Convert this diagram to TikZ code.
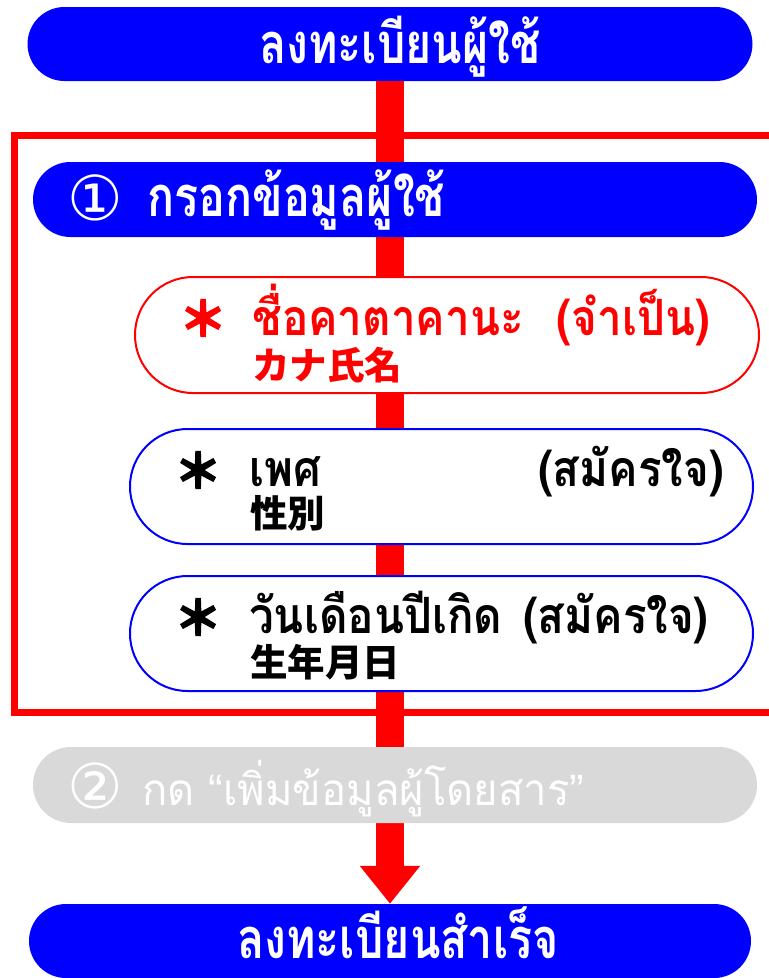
\documentclass[tikz,border=0pt]{standalone}
\usepackage{fontspec}
\usetikzlibrary{shapes.misc,arrows.meta}
\newfontfamily\thaif[Script=Thai,FakeStretch=0.8]{Loma}
\newfontfamily\thaii[Script=Thai,FakeStretch=0.88]{Loma}
\newfontfamily\thaig[Script=Thai,FakeStretch=0.95]{Loma}
\newfontfamily\jpf{Noto Sans CJK JP}
\newfontfamily\astf[FakeBold=2.5]{Noto Sans CJK JP}
\newfontfamily\symf{DejaVu Sans}
\newfontfamily\quof{Liberation Sans}
\definecolor{pblue}{RGB}{0,0,255}
\definecolor{pred}{RGB}{255,0,0}
\definecolor{pgrey}{RGB}{217,217,217}
\tikzset{
  pill/.style={rounded rectangle, inner sep=0pt, minimum height=#1},
  bluepill/.style={pill=#1, fill=pblue},
  greypill/.style={pill=#1, fill=pgrey},
  redline/.style={pill=#1, draw=pred, fill=white, line width=2pt},
  blueline/.style={pill=#1, draw=pblue, fill=white, line width=2pt},
  ttl/.style={inner sep=0pt, font=\thaif\bfseries\fontsize{56}{56}\selectfont},
  itm/.style={inner sep=0pt, font=\thaii\bfseries\fontsize{50}{50}\selectfont},
  grt/.style={inner sep=0pt, font=\thaig\fontsize{44}{44}\selectfont},
  jp/.style={inner sep=0pt, font=\jpf\bfseries\fontsize{37.5}{37.5}\selectfont},
  circ/.style={inner sep=0pt, font=\symf\fontsize{62}{62}\selectfont},
  ast/.style={inner sep=0pt, font=\astf\bfseries\fontsize{48}{48}\selectfont},
}
\begin{document}
\begin{tikzpicture}[x=1pt,y=-1pt]
\clip (0,0) rectangle (769,978);
\fill[white] (0,0) rectangle (769,978);
% frame
\coordinate (ftr) at (800,135);
\coordinate (ftl) at (14,135);
\coordinate (fbl) at (14,712);
\coordinate (fbr) at (800,712);
\draw[pred, line width=7pt] (ftr) -- (ftl) -- (fbl) -- (fbr);
% end nodes
\node[bluepill=74, minimum width=725] (top) at (390,44) {};
\node[bluepill=74, minimum width=722] (bot) at (390,941) {};
% main arrow
\draw[pred, line width=28pt, -{Triangle[width=58pt,length=38pt]}] (top.south) -- (bot.north);
% step 1
\node[bluepill=75, minimum width=724] (s1) at (395,199.5) {};
\node[redline=116, minimum width=624] (kana) at (447,335) {};
\node[blueline=115, minimum width=623] (sex) at (441.5,486.5) {};
\node[blueline=115, minimum width=623] (bday) at (441.5,633.5) {};
% step 2
\node[greypill=76, minimum width=724] (s2) at (395,785) {};
% texts
\node[ttl, text=white, anchor=base] (toptxt) at (400,63) {ลงทะเบียนผู้ใช้};
\node[ttl, text=white, anchor=base] (bottxt) at (398,958) {ลงทะเบียนสำเร็จ};
\node[circ, text=white] (c1) at (95.5,198) {①};
\node[ttl, text=white, anchor=base west] (s1txt) at (147,216) {กรอกข้อมูลผู้ใช้};
\node[circ, text=white] (c2) at (95.5,785.5) {②};
\node[grt, text=white, anchor=base west] (s2txt) at (142,805) {กด {\quof “}เพิ่มข้อมูลผู้โดยสาร{\quof ”}};
% kana
\node[ast, text=pred] (a1) at (203,318) {＊};
\node[itm, text=pred, anchor=base west] (k1) at (252,335) {ชื่อคาตาคานะ};
\node[itm, text=pred, anchor=base east] (k2) at (710,335) {(จำเป็น)};
\node[jp, text=pred, anchor=base west] (k3) at (252,379) {カナ氏名};
% sex
\node[ast] (a2) at (198,470) {＊};
\node[itm, anchor=base west] (x1) at (249,486) {เพศ};
\node[itm, anchor=base east] (x2) at (724,486) {(สมัครใจ)};
\node[jp, anchor=base west] (x3) at (250,527) {性別};
% birthday
\node[ast] (a3) at (198,617) {＊};
\node[itm, anchor=base west] (b1) at (249,633) {วันเดือนปีเกิด\hspace{0.12em} (สมัครใจ)};
\node[jp, anchor=base west] (b3) at (250,676) {生年月日};
\end{tikzpicture}
\end{document}
